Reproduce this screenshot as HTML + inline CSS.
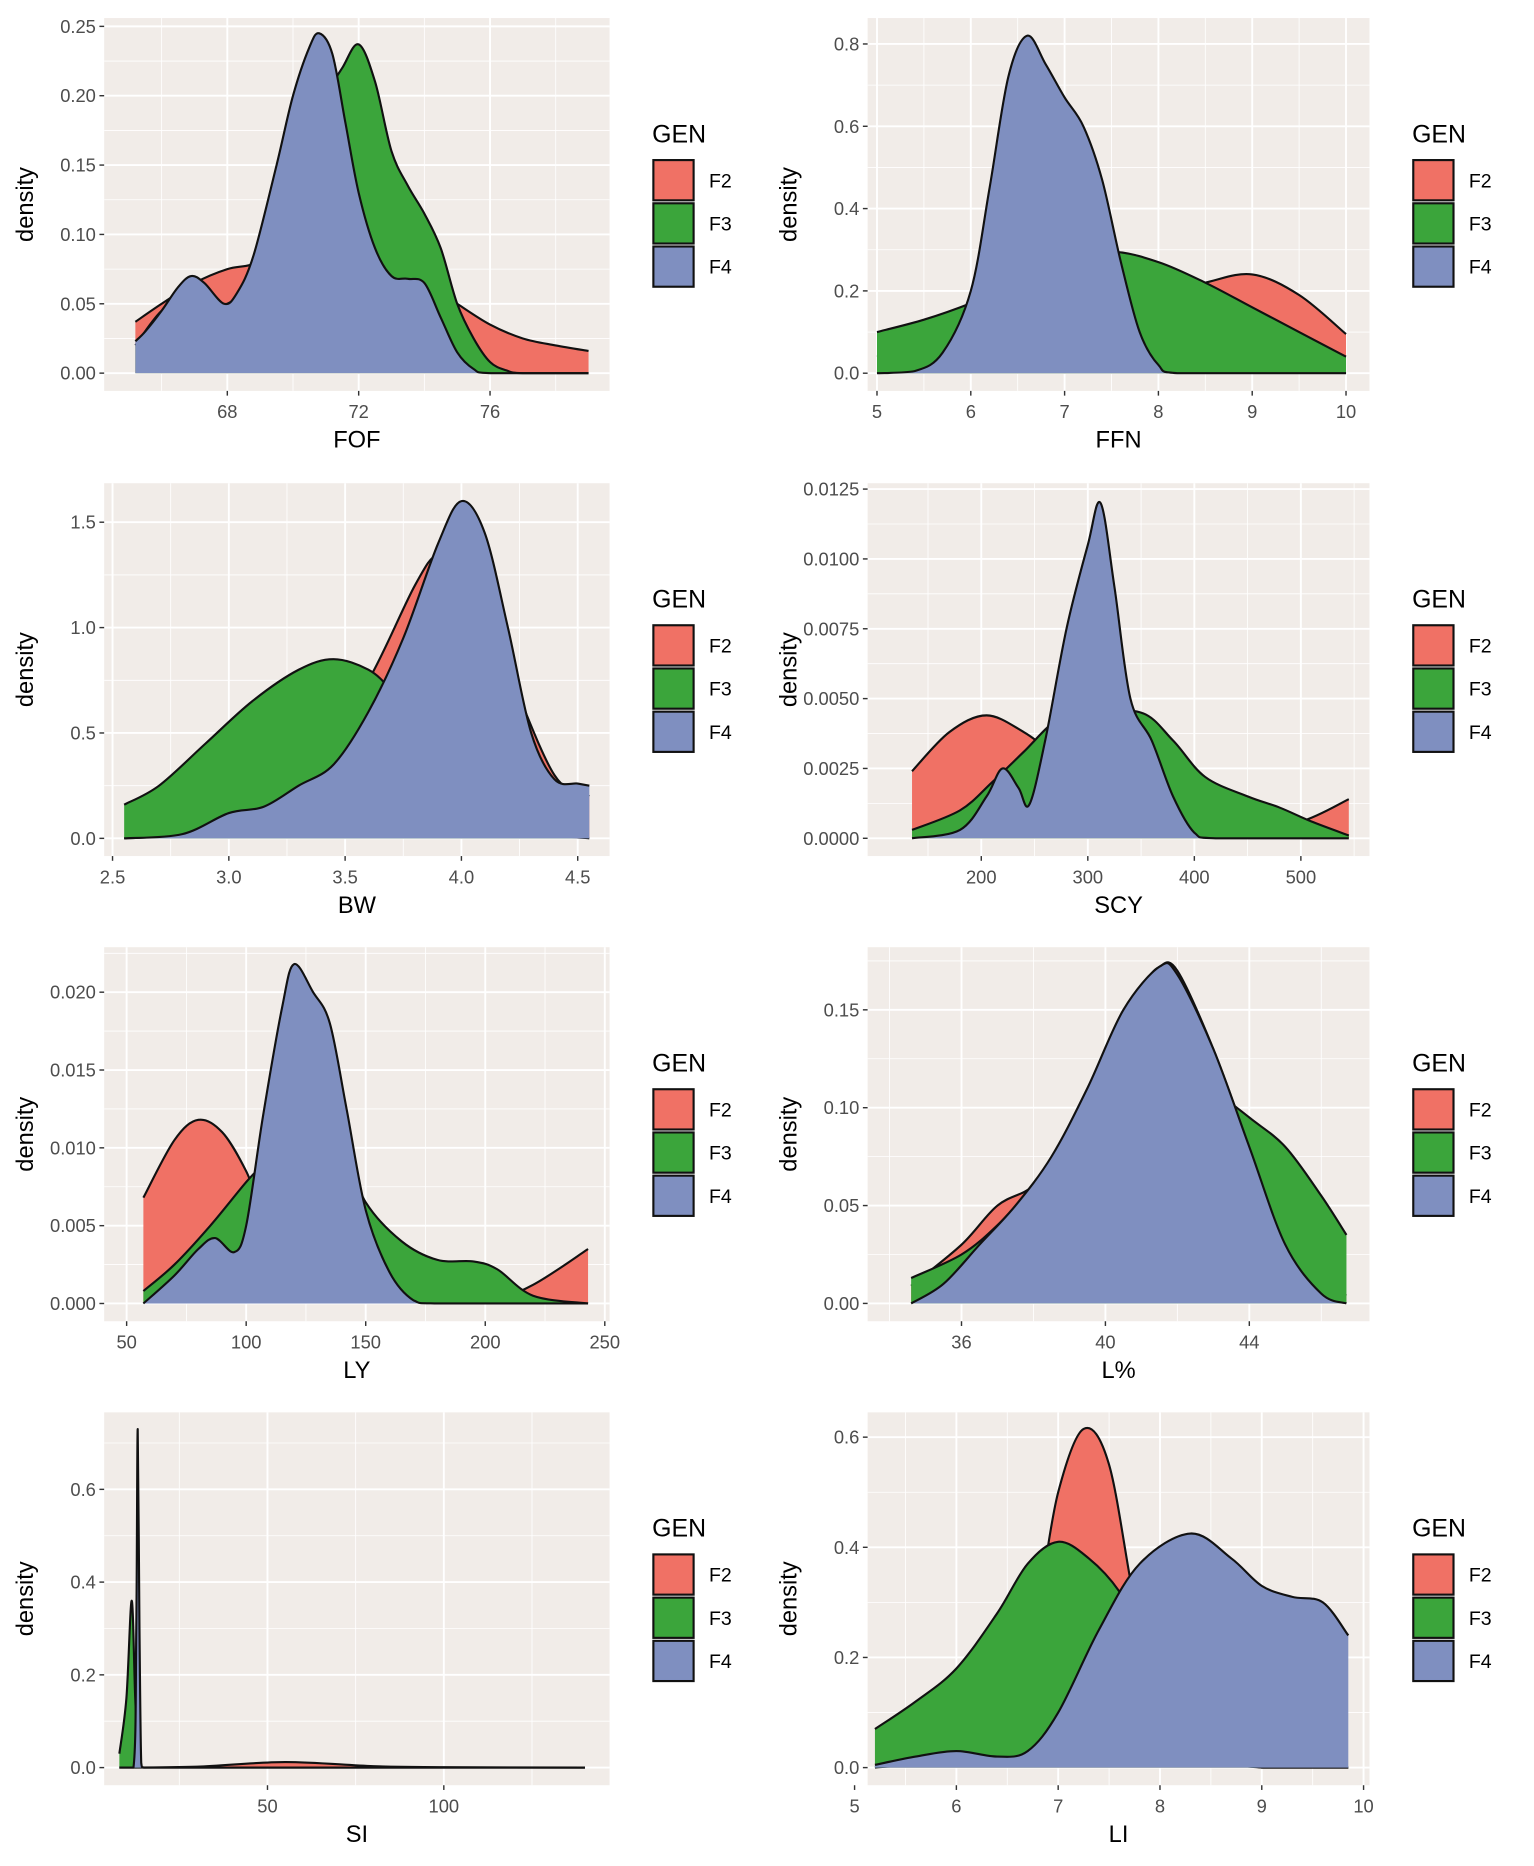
<!DOCTYPE html>
<html><head><meta charset="utf-8"><style>
html,body{margin:0;padding:0;background:#fff}
svg{display:block}
text{font-family:"Liberation Sans",sans-serif}
</style></head><body>
<svg id="fig" width="1534" height="1866" viewBox="0 0 1296 1576" xmlns="http://www.w3.org/2000/svg"></svg>
<script>
// ---- Data ----
const genLevels = ["F2","F3","F4"];
const genColors = ["#F07165","#3BA53B","#7F8FC0"];

const fofX2=[65.2,66,67,68,68.7,69.5,70.5,71.5,72.5,73.5,74.5,75,76,77,78,79];
const fofY2=[0.037,0.05,0.065,0.075,0.078,0.085,0.09,0.09,0.085,0.072,0.058,0.05,0.035,0.025,0.02,0.016];
const fofX3=[65.2,66,67,68,69,70,71,71.5,72,72.5,73,73.5,74,74.5,75,75.5,76,76.5,77,79];
const fofY3=[0.02,0.045,0.06,0.05,0.08,0.15,0.2,0.22,0.237,0.21,0.16,0.135,0.115,0.09,0.05,0.025,0.008,0.002,0,0];
const fofX4=[65.2,65.5,66,66.5,66.9,67.3,67.9,68.3,68.8,69.5,70,70.5,70.8,71.2,71.6,72,72.5,73,73.5,74,74.5,75,75.5,76,79];
const fofY4=[0.023,0.03,0.045,0.062,0.07,0.065,0.05,0.058,0.085,0.15,0.2,0.235,0.245,0.23,0.18,0.13,0.09,0.07,0.068,0.065,0.04,0.015,0.003,0,0];

const ffnX2=[5,5.5,6,6.5,7,7.5,8,8.5,9,9.5,10];
const ffnY2=[0.04,0.07,0.11,0.15,0.18,0.19,0.19,0.22,0.24,0.19,0.095];
const ffnX3=[5,5.5,6,6.5,7,7.5,8,8.5,9,9.5,10];
const ffnY3=[0.1,0.13,0.17,0.22,0.27,0.295,0.27,0.22,0.16,0.1,0.04];
const ffnX4=[5,5.4,5.7,6,6.2,6.4,6.6,6.8,7,7.2,7.4,7.6,7.8,8,8.2,10];
const ffnY4=[0,0.005,0.05,0.2,0.45,0.72,0.82,0.75,0.67,0.6,0.47,0.27,0.1,0.02,0,0];

const bwX2=[2.55,2.8,3.0,3.2,3.4,3.6,3.8,3.9,4.0,4.2,4.4,4.55];
const bwY2=[0,0.02,0.1,0.25,0.45,0.75,1.2,1.35,1.3,0.8,0.3,0.2];
const bwX3=[2.55,2.7,2.9,3.1,3.3,3.45,3.6,3.7,3.8,4.0,4.2,4.4,4.55];
const bwY3=[0.16,0.25,0.45,0.65,0.8,0.85,0.8,0.7,0.55,0.3,0.1,0.02,0];
const bwX4=[2.55,2.8,3.0,3.15,3.3,3.45,3.6,3.75,3.9,4.0,4.1,4.2,4.3,4.4,4.5,4.55];
const bwY4=[0,0.02,0.12,0.15,0.25,0.35,0.6,0.95,1.4,1.6,1.45,1.0,0.5,0.28,0.26,0.25];

const scyX2=[135,170,205,240,270,300,350,400,450,500,545];
const scyY2=[0.0024,0.0038,0.0044,0.0038,0.003,0.0025,0.002,0.001,0.0004,0.0006,0.0014];
const scyX3=[135,180,210,240,270,300,350,380,410,450,480,510,545];
const scyY3=[0.0003,0.001,0.002,0.0031,0.0042,0.0045,0.0045,0.0035,0.0022,0.0015,0.0011,0.0006,0.0001];
const scyX4=[135,180,205,220,235,245,260,280,300,312,325,340,360,380,400,420,545];
const scyY4=[0,0.0003,0.0015,0.0025,0.0018,0.0012,0.0035,0.0075,0.0105,0.012,0.009,0.005,0.0035,0.0015,0.0002,0,0];

const lyX2=[57,70,80,90,100,110,130,150,180,200,220,243];
const lyY2=[0.0068,0.0105,0.0118,0.011,0.0085,0.005,0.003,0.001,0,0,0.0012,0.0035];
const lyX3=[57,70,85,100,110,120,140,150,165,180,195,205,220,243];
const lyY3=[0.0008,0.0025,0.005,0.0078,0.0095,0.012,0.01,0.0065,0.004,0.0028,0.0027,0.0022,0.0005,0];
const lyX4=[57,70,80,87,95,100,107,115,120,128,135,142,150,160,170,180,243];
const lyY4=[0,0.0018,0.0035,0.0042,0.0033,0.005,0.012,0.019,0.0218,0.02,0.018,0.0125,0.006,0.002,0.0002,0,0];

const lpX2=[34.6,36,37,38,39,40,41,41.5,42,43,44,45,46,46.7];
const lpY2=[0.009,0.03,0.05,0.06,0.08,0.12,0.16,0.172,0.17,0.13,0.08,0.03,0.01,0.004];
const lpX3=[34.6,36,37,38,39,40,41,42,43,44,45,46,46.7];
const lpY3=[0.013,0.025,0.04,0.06,0.08,0.11,0.14,0.13,0.11,0.095,0.08,0.055,0.035];
const lpX4=[34.6,35.5,36.5,37.5,38.5,39.5,40.5,41.5,42,43,44,45,46,46.7];
const lpY4=[0,0.01,0.03,0.05,0.075,0.11,0.15,0.172,0.168,0.13,0.08,0.03,0.005,0];

const siX2=[8,30,55,80,100,140];
const siY2=[0,0.002,0.012,0.003,0.001,0];
const siX3=[8,10,11.5,12.5,13.5,15,140];
const siY3=[0.03,0.15,0.36,0.15,0.01,0,0];
const siX4=[8,12,12.8,13.2,13.7,14.2,15,140];
const siY4=[0,0,0.3,0.73,0.3,0.01,0,0];

const liX2=[5.2,6,6.5,6.8,7.0,7.25,7.5,7.75,8,8.5,9,9.85];
const liY2=[0,0.02,0.1,0.3,0.5,0.615,0.55,0.3,0.1,0.02,0,0];
const liX3=[5.2,5.6,6.0,6.4,6.7,7.0,7.3,7.6,7.9,8.2,8.5,9,9.85];
const liY3=[0.07,0.12,0.18,0.28,0.37,0.41,0.38,0.32,0.22,0.1,0.03,0,0];
const liX4=[5.2,5.6,6.0,6.4,6.7,7.0,7.4,7.8,8.3,8.7,9.0,9.3,9.6,9.85];
const liY4=[0.005,0.02,0.03,0.02,0.03,0.1,0.25,0.37,0.425,0.38,0.33,0.31,0.3,0.24];

const fofXTicks=[68,72,76], fofYTicks=[0,0.05,0.10,0.15,0.20,0.25], fofYLabels=["0.00","0.05","0.10","0.15","0.20","0.25"];
const ffnXTicks=[5,6,7,8,9,10], ffnYTicks=[0,0.2,0.4,0.6,0.8], ffnYLabels=["0.0","0.2","0.4","0.6","0.8"];
const bwXTicks=[2.5,3.0,3.5,4.0,4.5], bwXLabels=["2.5","3.0","3.5","4.0","4.5"], bwYTicks=[0,0.5,1.0,1.5], bwYLabels=["0.0","0.5","1.0","1.5"];
const scyXTicks=[200,300,400,500], scyYTicks=[0,0.0025,0.005,0.0075,0.01,0.0125], scyYLabels=["0.0000","0.0025","0.0050","0.0075","0.0100","0.0125"];
const lyXTicks=[50,100,150,200,250], lyYTicks=[0,0.005,0.01,0.015,0.02], lyYLabels=["0.000","0.005","0.010","0.015","0.020"];
const lpXTicks=[36,40,44], lpYTicks=[0,0.05,0.10,0.15], lpYLabels=["0.00","0.05","0.10","0.15"];
const siXTicks=[50,100], siYTicks=[0,0.2,0.4,0.6], siYLabels=["0.0","0.2","0.4","0.6"];
const liXTicks=[5,6,7,8,9,10], liYTicks=[0,0.2,0.4,0.6], liYLabels=["0.0","0.2","0.4","0.6"];

// ---- Layout ----
const NS="http://www.w3.org/2000/svg";
const svg=document.getElementById('fig');
function mk(tag,attrs,parent){const e=document.createElementNS(NS,tag);for(const k in attrs)e.setAttribute(k,attrs[k]);(parent||svg).appendChild(e);return e;}

const colL=[88,515], colR=[733,1157];
const rows=[[15,330],[408,723],[800,1116],[1193,1508]];
const panels=[
 {name:"fof",title:"FOF",col:colL,row:rows[0],xd:[64.25,79.64],yd:[-0.0128,0.256],xs:[fofX2,fofX3,fofX4],ys:[fofY2,fofY3,fofY4],xt:fofXTicks,xl:null,yt:fofYTicks,yl:fofYLabels},
 {name:"ffn",title:"FFN",col:colR,row:rows[0],xd:[4.9,10.25],yd:[-0.043,0.863],xs:[ffnX2,ffnX3,ffnX4],ys:[ffnY2,ffnY3,ffnY4],xt:ffnXTicks,xl:null,yt:ffnYTicks,yl:ffnYLabels},
 {name:"bw",title:"BW",col:colL,row:rows[1],xd:[2.464,4.637],yd:[-0.084,1.685],xs:[bwX2,bwX3,bwX4],ys:[bwY2,bwY3,bwY4],xt:bwXTicks,xl:bwXLabels,yt:bwYTicks,yl:bwYLabels},
 {name:"scy",title:"SCY",col:colR,row:rows[1],xd:[93.3,564.4],yd:[-0.000636,0.01271],xs:[scyX2,scyX3,scyX4],ys:[scyY2,scyY3,scyY4],xt:scyXTicks,xl:null,yt:scyYTicks,yl:scyYLabels},
 {name:"ly",title:"LY",col:colL,row:rows[2],xd:[40.6,252],yd:[-0.00114,0.02289],xs:[lyX2,lyX3,lyX4],ys:[lyY2,lyY3,lyY4],xt:lyXTicks,xl:null,yt:lyYTicks,yl:lyYLabels},
 {name:"lpct",title:"L%",col:colR,row:rows[2],xd:[33.39,47.34],yd:[-0.0091,0.182],xs:[lpX2,lpX3,lpX4],ys:[lpY2,lpY3,lpY4],xt:lpXTicks,xl:null,yt:lpYTicks,yl:lpYLabels},
 {name:"si",title:"SI",col:colL,row:rows[3],xd:[3.69,147],yd:[-0.038,0.766],xs:[siX2,siX3,siX4],ys:[siY2,siY3,siY4],xt:siXTicks,xl:null,yt:siYTicks,yl:siYLabels},
 {name:"li",title:"LI",col:colR,row:rows[3],xd:[5.128,10.058],yd:[-0.032,0.645],xs:[liX2,liX3,liX4],ys:[liY2,liY3,liY4],xt:liXTicks,xl:null,yt:liYTicks,yl:liYLabels}
];

function smoothPath(pts,base){
  let d="M"+pts[0][0].toFixed(2)+","+pts[0][1].toFixed(2);
  for(let i=0;i<pts.length-1;i++){
    const p0=pts[Math.max(0,i-1)],p1=pts[i],p2=pts[i+1],p3=pts[Math.min(pts.length-1,i+2)];
    const t=1/6;
    let c1x=p1[0]+(p2[0]-p0[0])*t,c1y=p1[1]+(p2[1]-p0[1])*t;
    let c2x=p2[0]-(p3[0]-p1[0])*t,c2y=p2[1]-(p3[1]-p1[1])*t;
    c1x=Math.min(Math.max(c1x,p1[0]),p2[0]);c2x=Math.min(Math.max(c2x,p1[0]),p2[0]);
    c1y=Math.min(c1y,base);c2y=Math.min(c2y,base);
    if(p1[1]>=base-0.01||p2[1]>=base-0.01){ // avoid dipping/overshoot near zero
      c1y=Math.min(c1y,Math.max(p1[1],p2[1]));c2y=Math.min(c2y,Math.max(p1[1],p2[1]));
      c1y=Math.max(c1y,Math.min(p1[1],p2[1]));c2y=Math.max(c2y,Math.min(p1[1],p2[1]));
    }
    d+=" C"+c1x.toFixed(2)+","+c1y.toFixed(2)+" "+c2x.toFixed(2)+","+c2y.toFixed(2)+" "+p2[0].toFixed(2)+","+p2[1].toFixed(2);
  }
  return d;
}

panels.forEach(p=>{
  const [L,R]=p.col,[T,B]=p.row;
  const sx=v=>L+(v-p.xd[0])/(p.xd[1]-p.xd[0])*(R-L);
  const sy=v=>B-(v-p.yd[0])/(p.yd[1]-p.yd[0])*(B-T);
  const g=mk('g',{});
  
  
  const bg=mk('rect',{x:L,y:T,width:R-L,height:B-T,fill:'#F1ECE8'},g);
  
  
  const xst=p.xt[1]-p.xt[0], yst=p.yt[1]-p.yt[0];
  for(let v=p.xt[0]-xst*1.5;v<=p.xd[1];v+=xst){ if(v>=p.xd[0]) mk('line',{x1:sx(v),x2:sx(v),y1:T,y2:B,stroke:'#fff','stroke-width':0.7},g);}
  for(let v=p.yt[0]-yst*1.5;v<=p.yd[1];v+=yst){ if(v>=p.yd[0]) mk('line',{x1:L,x2:R,y1:sy(v),y2:sy(v),stroke:'#fff','stroke-width':0.7},g);}
  p.xt.forEach(v=>mk('line',{x1:sx(v),x2:sx(v),y1:T,y2:B,stroke:'#fff','stroke-width':1.6},g));
  p.yt.forEach(v=>mk('line',{x1:L,x2:R,y1:sy(v),y2:sy(v),stroke:'#fff','stroke-width':1.6},g));
  const base=sy(0);
  for(let s=0;s<3;s++){
    const pts=p.xs[s].map((x,i)=>[sx(x),sy(p.ys[s][i])]);
    const top=smoothPath(pts,base);
    const area=mk('path',{d:top+" L"+pts[pts.length-1][0]+","+base+" L"+pts[0][0]+","+base+" Z",fill:genColors[s],stroke:'none'},g);
    
    
    const ln=mk('path',{d:top,fill:'none',stroke:'#111','stroke-width':1.8,'stroke-linejoin':'round'},g);
    
    
  }
  p.xt.forEach((v,i)=>{
    mk('line',{x1:sx(v),x2:sx(v),y1:B,y2:B+4,stroke:'#333','stroke-width':1.2},g);
    const t=mk('text',{x:sx(v),y:B+23,'text-anchor':'middle','font-size':15.5,fill:'#4d4d4d'},g);
    t.textContent=p.xl?p.xl[i]:String(v);
    
    
  });
  p.yt.forEach((v,i)=>{
    mk('line',{x1:L-4,x2:L,y1:sy(v),y2:sy(v),stroke:'#333','stroke-width':1.2},g);
    const t=mk('text',{x:L-7,y:sy(v)+5.5,'text-anchor':'end','font-size':15.5,fill:'#4d4d4d'},g);
    t.textContent=p.yl[i];
    
    
  });
  const xt=mk('text',{x:(L+R)/2,y:B+48,'text-anchor':'middle','font-size':20,fill:'#000'},g);
  xt.textContent=p.title;
  
  
  const yx=L-60,yy=(T+B)/2;
  const ytl=mk('text',{x:yx,y:yy,'text-anchor':'middle','font-size':20,fill:'#000',transform:'rotate(-90 '+yx+' '+yy+')'},g);
  ytl.textContent='density';
  
  
  const lx=R+36, ly=T+97;
  const lg=mk('g',{},g);
  
  
  const gt=mk('text',{x:lx,y:ly+8,'font-size':21,fill:'#000'},lg);
  gt.textContent='GEN';
  
  
  genLevels.forEach((lv,i)=>{
    const ky=ly+23+i*36.5;
    const r=mk('rect',{x:lx+1,y:ky,width:34,height:34,fill:genColors[i],stroke:'#111','stroke-width':1.8},lg);
    
    
    const lt=mk('text',{x:lx+48,y:ky+23,'font-size':16.5,fill:'#000'},lg);
    lt.textContent=lv;
    
    
  });
});
</script>
</body></html>
